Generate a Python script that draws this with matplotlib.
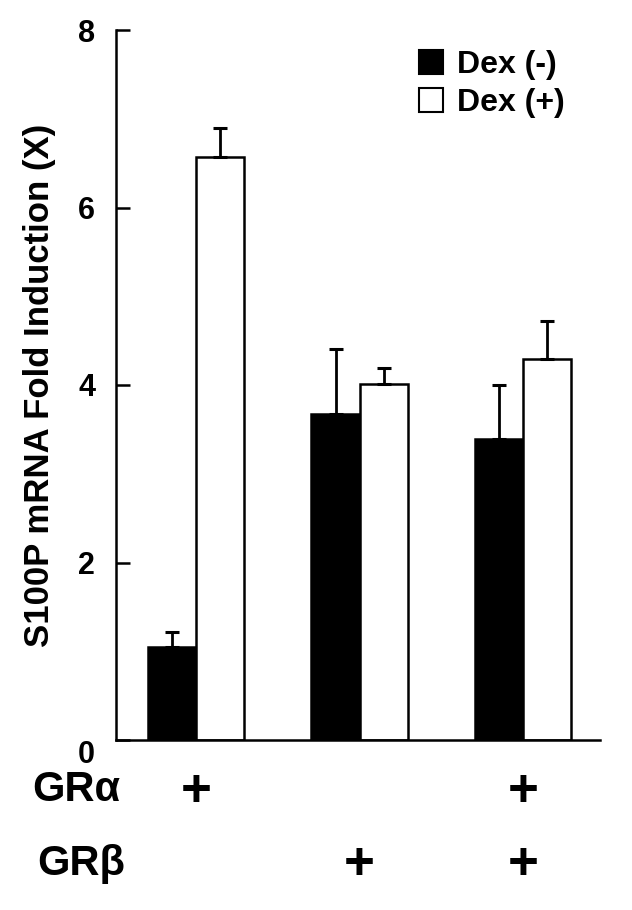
import matplotlib.pyplot as plt
import numpy as np

plt.rcParams['font.family'] = ['Liberation Sans', 'DejaVu Sans']
plt.rcParams['font.weight'] = 'bold'

# data
groups = ['1', '2', '3']
dex_minus = [1.05, 3.67, 3.39]
dex_minus_err = [0.17, 0.74, 0.61]
dex_plus = [6.57, 4.01, 4.29]
dex_plus_err = [0.33, 0.18, 0.43]
gr_alpha = [True, False, True]
gr_beta = [False, True, True]

fig = plt.figure(figsize=(6.32, 9.10), dpi=100)
ax = fig.add_axes([116/632, 1 - 740/910, (600 - 116)/632, (740 - 30)/910])

x = np.arange(len(groups))
w = 0.295
lw = 1.8

ax.bar(x - w/2, dex_minus, w, color='black', edgecolor='black', linewidth=lw,
       yerr=[np.zeros(3), dex_minus_err], capsize=5,
       error_kw=dict(elinewidth=2.0, capthick=2.2, ecolor='black'), label='Dex (-)')
ax.bar(x + w/2, dex_plus, w, color='white', edgecolor='black', linewidth=lw,
       yerr=[np.zeros(3), dex_plus_err], capsize=5,
       error_kw=dict(elinewidth=2.0, capthick=2.2, ecolor='black'), label='Dex (+)')

ax.set_ylim(0, 8)
ax.set_xlim(-0.49, 2.47)
ax.set_yticks([0, 2, 4, 6, 8])
ax.set_xticks([])
ax.tick_params(axis='y', direction='in', length=10, width=lw, labelsize=22, pad=15)
for s in ['top', 'right']:
    ax.spines[s].set_visible(False)
for s in ['left', 'bottom']:
    ax.spines[s].set_linewidth(lw)

# the zero label sits below the corner
for lab in ax.get_yticklabels():
    if lab.get_text() == '0':
        lab.set_va('top')

ax.set_ylabel('S100P mRNA Fold Induction (X)', fontsize=25, fontweight='bold', labelpad=16)

leg = ax.legend(loc='upper left', bbox_to_anchor=(419/632, 1 - 50/910),
                bbox_transform=fig.transFigure, frameon=False,
                fontsize=23, handlelength=0.75, handleheight=0.75, handletextpad=0.45,
                labelspacing=0.25, borderpad=0, borderaxespad=0)
for h in leg.legend_handles:
    h.set_linewidth(1.5)

# genotype rows below the axis
trans = ax.get_xaxis_transform()
ax.text(-0.49 - 0.51, -0.0859, 'GR\u03b1', transform=trans, fontsize=30, fontweight='bold',
        ha='left', va='baseline')
ax.text(-0.49 - 0.48, -0.190, 'GR\u03b2', transform=trans, fontsize=30, fontweight='bold',
        ha='left', va='baseline')
for i in range(len(groups)):
    if gr_alpha[i]:
        ax.text(x[i], -0.0732, '+', transform=trans, fontsize=38, fontweight='bold',
                ha='center', va='center')
    if gr_beta[i]:
        ax.text(x[i], -0.176, '+', transform=trans, fontsize=38,
                fontweight='bold', ha='center', va='center')

fig.savefig('out.png', dpi=100)
